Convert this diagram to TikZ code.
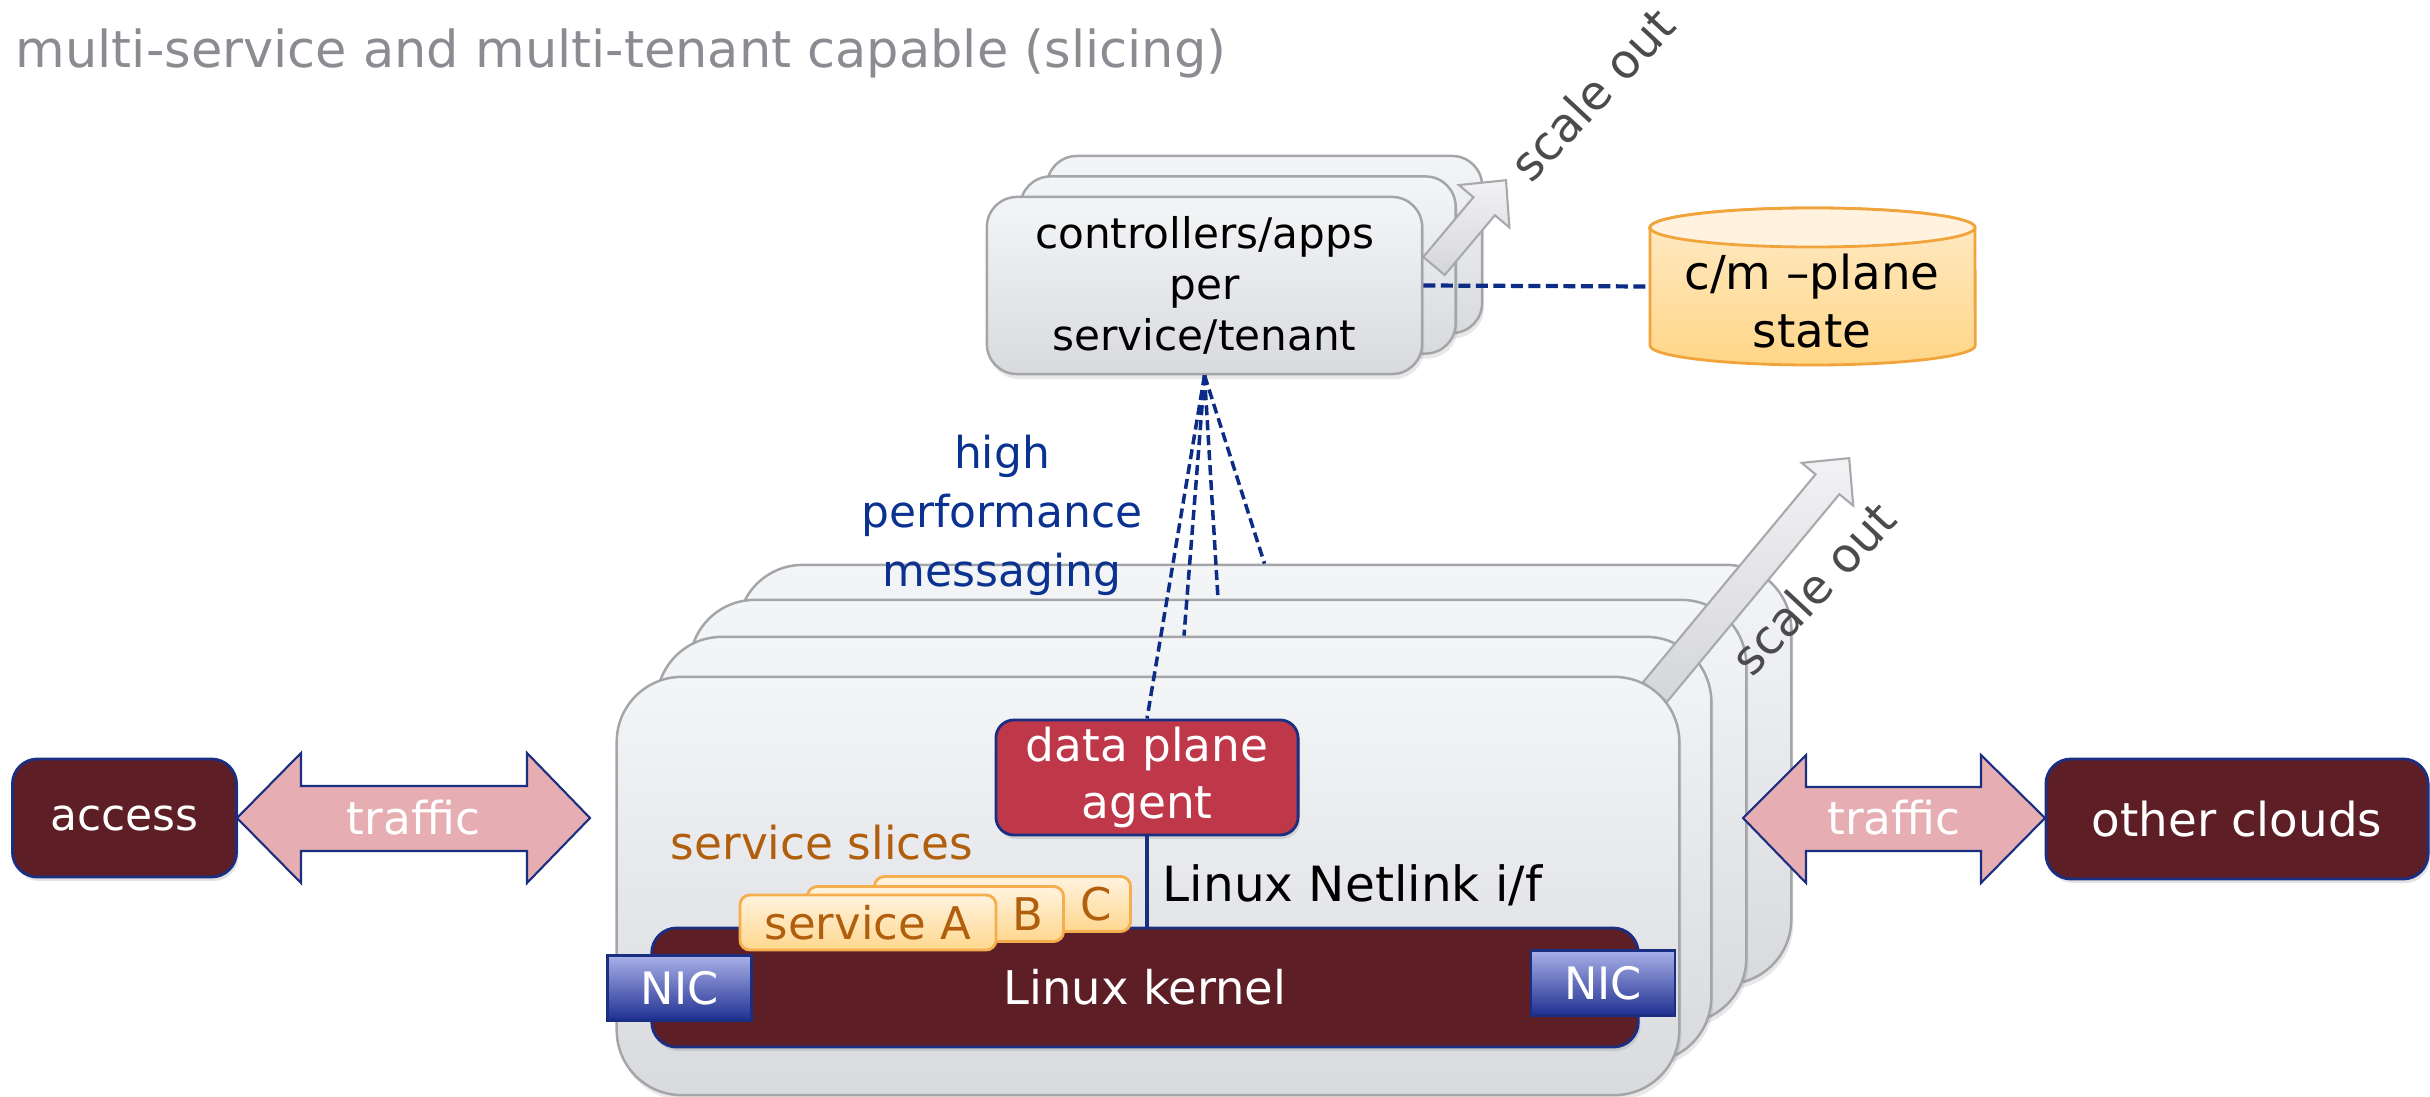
\documentclass[tikz,border=0pt]{standalone}
\usepackage{fontspec}
\setmainfont{DejaVu Sans}
\usetikzlibrary{shadows}
\definecolor{boxtop}{HTML}{F4F5F7}
\definecolor{boxbot}{HTML}{D9DADE}
\definecolor{boxline}{HTML}{A4A5A8}
\definecolor{maroon}{HTML}{5D1E26}
\definecolor{navy}{HTML}{1B2F82}
\definecolor{dashblue}{HTML}{0C2C86}
\definecolor{txtblue}{HTML}{0B3290}
\definecolor{agentred}{HTML}{BE3849}
\definecolor{trafficpink}{HTML}{E6AEB3}
\definecolor{nictop}{HTML}{A9B1E8}
\definecolor{nicbot}{HTML}{1F2F91}
\definecolor{slicetop}{HTML}{FFF3DF}
\definecolor{slicebot}{HTML}{FFD78E}
\definecolor{sliceline}{HTML}{F4AE4E}
\definecolor{slicetxt}{HTML}{B15F0C}
\definecolor{titlegray}{HTML}{8A8C91}
\definecolor{scalegray}{HTML}{4B4B4E}
\definecolor{arrowtop}{HTML}{F2F2F4}
\definecolor{arrowbot}{HTML}{D5D6DA}
\definecolor{arrowline}{HTML}{A8A9AC}
\definecolor{cyltop}{HTML}{FFF3E0}
\definecolor{cylbodytop}{HTML}{FFEBC8}
\definecolor{cylbodybot}{HTML}{FFD687}
\definecolor{cylline}{HTML}{F2A43C}
\newcommand{\fsz}[2]{\fontsize{#1}{#2}\selectfont}
\begin{document}
\begin{tikzpicture}[x=0.01cm,y=-0.01cm,
  graybox/.style={draw=boxline,line width=0.7pt,top color=boxtop,bottom color=boxbot,inner sep=0pt,
     drop shadow={opacity=0.18,shadow xshift=0.02cm,shadow yshift=-0.05cm}},
  ctrlbox/.style={graybox,rounded corners=0.3cm,minimum width=4.35cm,minimum height=1.77cm},
  dpbox/.style={graybox,rounded corners=0.65cm},
  darkbox/.style={draw=navy,line width=0.8pt,fill=maroon,text=white,inner sep=0pt,
     drop shadow={opacity=0.22,shadow xshift=0.02cm,shadow yshift=-0.04cm}},
  nicbox/.style={draw=navy,line width=0.8pt,top color=nictop,bottom color=nicbot,text=white,inner sep=0pt,
     minimum width=1.44cm,minimum height=0.65cm,font=\fsz{12.7}{15}},
  slicebox/.style={draw=sliceline,line width=0.8pt,top color=slicetop,bottom color=slicebot,
     rounded corners=0.1cm,minimum width=2.56cm,minimum height=0.55cm,inner sep=0pt},
  traffic/.style={draw=navy,line width=0.6pt,fill=trafficpink},
  scalearrow/.style={draw=arrowline,line width=0.6pt,top color=arrowtop,bottom color=arrowbot},
  msgline/.style={draw=dashblue,line width=1pt,dash pattern=on 0.1cm off 0.05cm},
  lbl/.style={inner sep=0pt}
]
\useasboundingbox (0,0) rectangle (2430,1097);

% title
\node[lbl,anchor=west,text=titlegray,font=\fsz{14.5}{17}] (title) at (15,53) {multi-service and multi-tenant capable (slicing)};

% controllers stack
\node[ctrlbox] (c3) at (1264.5,244.5) {};
\node[ctrlbox] (c2) at (1238,265) {};
\path[scalearrow,shift={(1434,266)},rotate=50] (0,-14) -- (78,-14) -- (78,-33) -- (112,0) -- (78,33) -- (78,14) -- (0,14) -- cycle;
\node[ctrlbox,align=center,font=\fsz{12}{14.5}] (ctrl) at (1204.5,285.5) {controllers/apps\\per\\service/tenant};
\node[lbl,rotate=47,text=scalegray,font=\fsz{13.5}{16}] (so1) at (1592,94) {scale out};

% c/m-plane state cylinder
\path[draw=cylline,line width=0.8pt,top color=cylbodytop,bottom color=cylbodybot]
  (1650,227.5) -- (1650,345.5) arc[start angle=180,end angle=360,x radius=1.625cm,y radius=0.195cm]
  -- (1975,227.5) arc[start angle=0,end angle=180,x radius=1.625cm,y radius=0.195cm] -- cycle;
\draw[cylline,line width=0.8pt,fill=cyltop] (1812.5,227.5) ellipse[x radius=1.625cm,y radius=0.195cm];
\node[minimum width=3.25cm,minimum height=1.57cm,inner sep=0pt] (cyl) at (1812.5,286.5) {};
\node[lbl,align=center,font=\fsz{13.3}{16.3}] (cmtxt) at (1812,301) {c/m –plane\\state};
\draw[msgline,line width=1.2pt,dash pattern=on 0.12cm off 0.055cm] (ctrl.east) -- (cyl.west);

% data plane stack
\node[dpbox,minimum width=10.53cm,minimum height=4.19cm] (b4) at (1264.5,774.5) {};
\node[dpbox,minimum width=10.56cm,minimum height=4.23cm] (b3) at (1218,811.5) {};
\node[dpbox,minimum width=10.54cm,minimum height=4.25cm] (b2) at (1184,849.5) {};
\path[scalearrow,shift={(1655,692)},rotate=50.3] (0,-15.5) -- (270,-15.5) -- (270,-33.5) -- (304,0) -- (270,33.5) -- (270,15.5) -- (0,15.5) -- cycle;
\node[dpbox,minimum width=10.62cm,minimum height=4.18cm] (b1) at (1148,886) {};
\node[lbl,rotate=47,text=scalegray,font=\fsz{13.5}{16}] (so2) at (1813,588) {scale out};

\node[darkbox,fill=agentred,rounded corners=0.18cm,minimum width=3.02cm,minimum height=1.15cm,align=center,font=\fsz{12.9}{16}] (agent) at (1147,777.5) {data plane\\agent};
\node[darkbox,rounded corners=0.25cm,minimum width=9.86cm,minimum height=1.19cm,font=\fsz{13.2}{16}] (kernel) at (1145,987.5) {Linux kernel};
\draw[navy,line width=1pt] (agent.south) -- (agent.south |- kernel.north);
\node[lbl,anchor=west,font=\fsz{13.8}{16}] (netlink) at (1162,885) {Linux Netlink i/f};
\node[lbl,text=slicetxt,font=\fsz{12.9}{16}] (slices) at (822,843) {service slices};
\node[slicebox] (sc) at (1002.5,904) {};
\node[slicebox] (sb) at (935.5,914) {};
\node[slicebox,text=slicetxt,font=\fsz{12.8}{15}] (sa) at (868,922.5) {service A};
\node[lbl,text=slicetxt,font=\fsz{12.8}{15}] (sbt) at (1028,914) {B};
\node[lbl,text=slicetxt,font=\fsz{12.8}{15}] (sct) at (1096,904) {C};
\node[nicbox] (nicl) at (679.5,988) {NIC};
\node[nicbox] (nicr) at (1603,983) {NIC};

% messaging lines
\draw[msgline] (ctrl.south) -- (agent.north);
\draw[msgline] (ctrl.south) -- (b2.north);
\draw[msgline] (ctrl.south) -- (b3.north);
\draw[msgline] (ctrl.south) -- (b4.north);
\node[lbl,align=center,text=txtblue,font=\fsz{12.5}{16.8}] (hpm) at (1002,515) {high\\performance\\messaging};

% access side
\node[darkbox,rounded corners=0.25cm,minimum width=2.24cm,minimum height=1.18cm,font=\fsz{12.5}{15}] (access) at (124.5,818) {access};
\path[traffic] (237,818) -- (301,753) -- (301,786) -- (527,786) -- (527,753) -- (590,818) -- (527,883) -- (527,851) -- (301,851) -- (301,883) -- cycle;
\node[lbl,text=white,font=\fsz{12.9}{15}] (tr1) at (413.5,818) {traffic};

% other clouds side
\path[traffic] (1743,818) -- (1806,755) -- (1806,787) -- (1981,787) -- (1981,755) -- (2045,818) -- (1981,883) -- (1981,851) -- (1806,851) -- (1806,883) -- cycle;
\node[lbl,text=white,font=\fsz{12.9}{15}] (tr2) at (1894,818) {traffic};
\node[darkbox,rounded corners=0.25cm,minimum width=3.82cm,minimum height=1.2cm,font=\fsz{13.3}{16}] (clouds) at (2237,819) {other clouds};
\end{tikzpicture}
\end{document}
